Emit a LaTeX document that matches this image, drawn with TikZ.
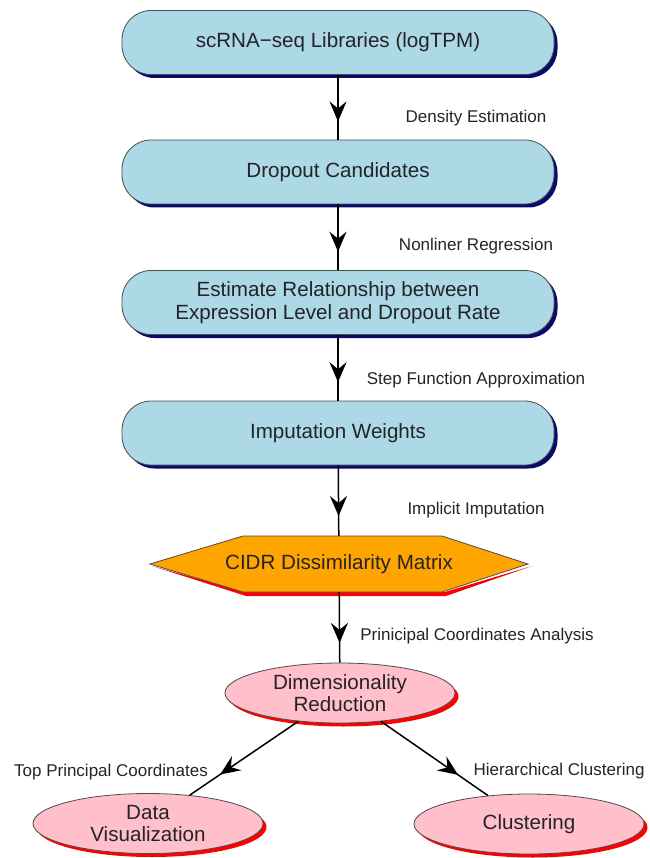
\documentclass[tikz,border=0pt]{standalone}
\usepackage{fontspec}
\setmainfont{Liberation Sans}
\usetikzlibrary{arrows.meta,shapes.geometric,shadows,decorations.markings,calc}
\definecolor{boxblue}{RGB}{173,216,230}
\definecolor{shadowblue}{RGB}{10,10,110}
\definecolor{hexorange}{RGB}{255,165,0}
\definecolor{ellpink}{RGB}{255,192,203}
\definecolor{txt}{RGB}{35,35,40}
\tikzset{
  bluebox/.style={draw=black!70, line width=0.8pt, fill=boxblue, rounded corners=29pt,
    minimum width=432pt, minimum height=64pt, inner sep=0pt, align=center,
    font=\fontsize{20.6}{23.5}\selectfont, text=txt,
    drop shadow={fill=shadowblue, opacity=1, shadow xshift=3.5pt, shadow yshift=-3.5pt}},
  pinkell/.style={ellipse, draw=black!70, line width=0.8pt, fill=ellpink,
    minimum width=230pt, minimum height=60pt, inner sep=0pt, align=center,
    font=\fontsize{20.6}{22}\selectfont, text=txt,
    drop shadow={fill=red, opacity=1, shadow xshift=3.5pt, shadow yshift=-3.5pt}},
  edgelabel/.style={font=\fontsize{17}{19}\selectfont, text=txt, inner sep=0pt},
  flowarrow/.style={draw=black, line width=1.5pt, postaction={decorate},
    decoration={markings, mark=at position 0.72 with {\arrow{Stealth[length=20pt,width=17pt,inset=7pt]}}}},
  hexlabel/.style={minimum width=378pt, minimum height=56pt, inner sep=0pt}
}
\begin{document}
\begin{tikzpicture}[x=1pt,y=-1pt]
\useasboundingbox (0,0) rectangle (649,858);
% boxes
\node[bluebox] (libs) at (338,42.5) {scRNA\char"2212 seq Libraries (logTPM)};
\node[bluebox] (drop) at (338,172) {Dropout Candidates};
\node[bluebox] (est) at (338,302.5) {Estimate Relationship between\\Expression Level and Dropout Rate};
\node[bluebox] (imp) at (338,433) {Imputation Weights};
% hexagon
\node[hexlabel] (cidr) at (339,564) {};
\fill[red] (152,566) -- (246,596) -- (446,596) -- (532,566) -- (445,592) -- (246,592) -- cycle;
\filldraw[fill=hexorange, draw=black!70, line width=0.8pt]
  (150,564) -- (243,536) -- (442,536) -- (528,564) -- (442,592) -- (243,592) -- cycle;
\node[font=\fontsize{20.6}{23}\selectfont, text=txt] (cidrtext) at (339,564) {CIDR Dissimilarity Matrix};
% ellipses
\node[pinkell] (dim) at (340,693) {Dimensionality\\Reduction};
\node[pinkell] (dv) at (148,823.5) {Data\\Visualization};
\node[pinkell] (clus) at (529,824) {Clustering};
% arrows
\draw[flowarrow] (libs) -- (drop);
\draw[flowarrow] (drop) -- (est);
\draw[flowarrow] (est) -- (imp);
\draw[flowarrow] (imp) -- (cidr);
\draw[flowarrow] (cidr) -- (dim);
\draw[flowarrow] (dim) -- (dv);
\draw[flowarrow] (dim) -- (clus);
% labels
\node[edgelabel] (l1) at (476,118) {Density Estimation};
\node[edgelabel] (l2) at (476,246) {Nonliner Regression};
\node[edgelabel] (l3) at (476,380) {Step Function Approximation};
\node[edgelabel] (l4) at (476,510) {Implicit Imputation};
\node[edgelabel] (l5) at (477,636) {Prinicipal Coordinates Analysis};
\node[edgelabel] (l6) at (111,772) {Top Principal Coordinates};
\node[edgelabel] (l7) at (559,771) {Hierarchical Clustering};
\end{tikzpicture}
\end{document}
